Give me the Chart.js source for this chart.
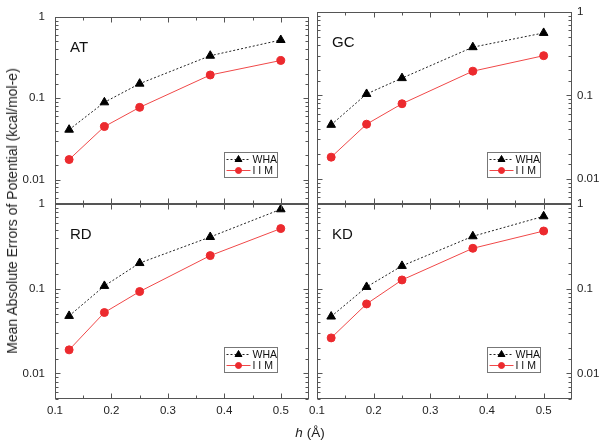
<!DOCTYPE html>
<html>
<head>
<meta charset="utf-8">
<script src="https://cdn.jsdelivr.net/npm/chart.js@4/dist/chart.umd.min.js"></script>
<style>
  body { margin: 0; background: #fff; }
  #wrap { position: relative; width: 602px; height: 443px; font-family: "Liberation Sans", Arial, sans-serif; }
  #wrap canvas { position: absolute; left: 0; top: 0; }
  #ytitle { position: absolute; left: 12px; top: 211px; transform: translate(-50%, -50%) rotate(-90deg);
            white-space: nowrap; font-size: 14px; color: #222; }
  #xtitle { position: absolute; left: 310px; top: 432px; transform: translate(-50%, -50%);
            white-space: nowrap; font-size: 13.5px; color: #222; }
</style>
</head>
<body>
<div id="wrap">
  <canvas id="c1" width="602" height="443"></canvas>
  <canvas id="c2" width="602" height="443"></canvas>
  <canvas id="c3" width="602" height="443"></canvas>
  <canvas id="c4" width="602" height="443"></canvas>
  <div id="ytitle">Mean Absolute Errors of Potential (kcal/mol-e)</div>
  <div id="xtitle"><i>h</i> (Å)</div>
</div>
<script>
// grid spacing h (Å)
const hValues = [0.125, 0.1875, 0.25, 0.375, 0.5];

// mean absolute errors
const atWHA = [0.041, 0.089, 0.151, 0.333, 0.52];
const atIIM = [0.0176, 0.0448, 0.0772, 0.193, 0.291];
const gcWHA = [0.0444, 0.104, 0.161, 0.378, 0.56];
const gcIIM = [0.0182, 0.0452, 0.0794, 0.195, 0.299];
const rdWHA = [0.0478, 0.108, 0.201, 0.408, 0.866];
const rdIIM = [0.019, 0.0524, 0.0927, 0.246, 0.513];
const kdWHA = [0.047, 0.105, 0.186, 0.416, 0.716];
const kdIIM = [0.0263, 0.0662, 0.127, 0.30, 0.48];

const seriesNames = ['WHA', 'I I M'];
const panelNames = ['AT', 'GC', 'RD', 'KD'];

const FONT = '"Liberation Sans", Arial, sans-serif';
const AXIS = '#555';

function isPow10(v) {
    const l = Math.log10(v);
    return Math.abs(l - Math.round(l)) < 1e-9;
}
function isMajorX(v) {
    return Math.abs(v * 10 - Math.round(v * 10)) < 1e-6;
}

// frame, inward ticks on four sides, panel name and legend box
const panelDecor = {
    id: 'panelDecor',
    afterDatasetsDraw(chart, args, opts) {
        const { ctx, chartArea: a, scales: { x, y } } = chart;
        const L = Math.round(a.left) + 0.5, R = Math.round(a.right) - 0.5;
        const T = Math.round(a.top) + 0.5, B = Math.round(a.bottom) - 0.5;
        ctx.save();
        ctx.strokeStyle = AXIS;
        ctx.lineWidth = 1;
        ctx.strokeRect(L, T, R - L, B - T);
        ctx.beginPath();
        x.ticks.forEach(t => {
            const px = Math.round(x.getPixelForValue(t.value)) + 0.5;
            if (px < L || px > R) return;
            const len = isMajorX(t.value) ? 5 : 3;
            ctx.moveTo(px, B); ctx.lineTo(px, B - len);
            ctx.moveTo(px, T); ctx.lineTo(px, T + len);
        });
        y.ticks.forEach(t => {
            const py = Math.round(y.getPixelForValue(t.value)) + 0.5;
            if (py < T - 1 || py > B + 1) return;
            const len = isPow10(t.value) ? 5 : 3;
            ctx.moveTo(L, py); ctx.lineTo(L + len, py);
            ctx.moveTo(R, py); ctx.lineTo(R - len, py);
        });
        ctx.stroke();

        // panel name
        ctx.fillStyle = '#111';
        ctx.font = '15px ' + FONT;
        ctx.textBaseline = 'middle';
        ctx.fillText(opts.name, a.left + 15, a.top + 31);

        // legend box
        const bw = 53, bh = 25;
        const bx = Math.round(a.right - 32 - bw) + 0.5, by = Math.round(a.bottom - 27 - bh) + 0.5;
        ctx.strokeStyle = '#777';
        ctx.strokeRect(bx, by, bw, bh);
        ctx.font = '10.5px ' + FONT;
        chart.data.datasets.forEach((ds, i) => {
            const ry = by + 7 + i * 11;
            ctx.save();
            ctx.strokeStyle = ds.borderColor;
            ctx.lineWidth = ds.borderWidth;
            ctx.setLineDash(ds.borderDash || []);
            ctx.beginPath();
            ctx.moveTo(bx + 2, ry); ctx.lineTo(bx + 26, ry);
            ctx.stroke();
            ctx.restore();
            ctx.fillStyle = ds.pointBackgroundColor;
            ctx.strokeStyle = ds.pointBorderColor;
            Chart.helpers.drawPoint(ctx, {
                pointStyle: ds.pointStyle, radius: ds.pointRadius - 1, rotation: 0, borderWidth: 1
            }, bx + 14, ry);
            ctx.fillStyle = '#111';
            ctx.fillText(ds.label, bx + 28, ry + 0.5);
        });
        ctx.restore();
    }
};

function makePanel(id, idx, wha, iim, area, yRight, showX) {
    const yw = yRight ? 28 : 45;
    const xh = showX ? 20 : 0;
    const pad = {
        left: yRight ? area.left : area.left - yw,
        right: yRight ? 602 - area.right - yw : 602 - area.right,
        top: area.top,
        bottom: 443 - area.bottom - xh
    };
    new Chart(document.getElementById(id), {
        type: 'line',
        data: {
            datasets: [{
                label: seriesNames[0],
                data: hValues.map((h, i) => ({ x: h, y: wha[i] })),
                borderColor: '#222',
                borderWidth: 1,
                borderDash: [2, 2],
                pointStyle: 'triangle',
                pointRadius: 5,
                pointBackgroundColor: '#000',
                pointBorderColor: '#000',
                tension: 0
            }, {
                label: seriesNames[1],
                data: hValues.map((h, i) => ({ x: h, y: iim[i] })),
                borderColor: '#f04848',
                borderWidth: 1,
                pointStyle: 'circle',
                pointRadius: 4,
                pointBackgroundColor: '#ec2a2e',
                pointBorderColor: '#ec2a2e',
                tension: 0
            }]
        },
        options: {
            responsive: false,
            animation: false,
            devicePixelRatio: 1,
            layout: { padding: pad },
            plugins: {
                legend: { display: false },
                tooltip: { enabled: false },
                panelDecor: { name: panelNames[idx] }
            },
            scales: {
                x: {
                    type: 'linear',
                    min: 0.1,
                    max: 0.55,
                    grid: { display: false, drawTicks: false },
                    border: { display: false },
                    afterFit: s => { s.height = xh; },
                    ticks: {
                        display: showX,
                        stepSize: 0.05,
                        autoSkip: false,
                        maxRotation: 0,
                        minRotation: 0,
                        padding: 5,
                        color: '#222',
                        font: { family: FONT, size: 11.5 },
                        callback: v => (isMajorX(v) && v < 0.51) ? v.toFixed(1) : ''
                    }
                },
                y: {
                    type: 'logarithmic',
                    position: yRight ? 'right' : 'left',
                    min: 0.005,
                    max: 1,
                    grid: { display: false, drawTicks: false },
                    border: { display: false },
                    afterFit: s => { s.width = yw; },
                    ticks: {
                        autoSkip: false,
                        padding: yRight ? 5 : 10,
                        color: '#222',
                        font: { family: FONT, size: 11.5 },
                        callback: v => isPow10(v) ? String(+Number(v).toPrecision(1)) : ''
                    }
                }
            }
        },
        plugins: [panelDecor]
    });
}

makePanel('c1', 0, atWHA, atIIM, { left: 55, right: 309, top: 10, bottom: 204 }, false, false);
makePanel('c2', 1, gcWHA, gcIIM, { left: 317, right: 572, top: 10, bottom: 204 }, true, false);
makePanel('c3', 2, rdWHA, rdIIM, { left: 55, right: 309, top: 204, bottom: 399 }, false, true);
makePanel('c4', 3, kdWHA, kdIIM, { left: 317, right: 572, top: 204, bottom: 399 }, true, true);
</script>
</body>
</html>
